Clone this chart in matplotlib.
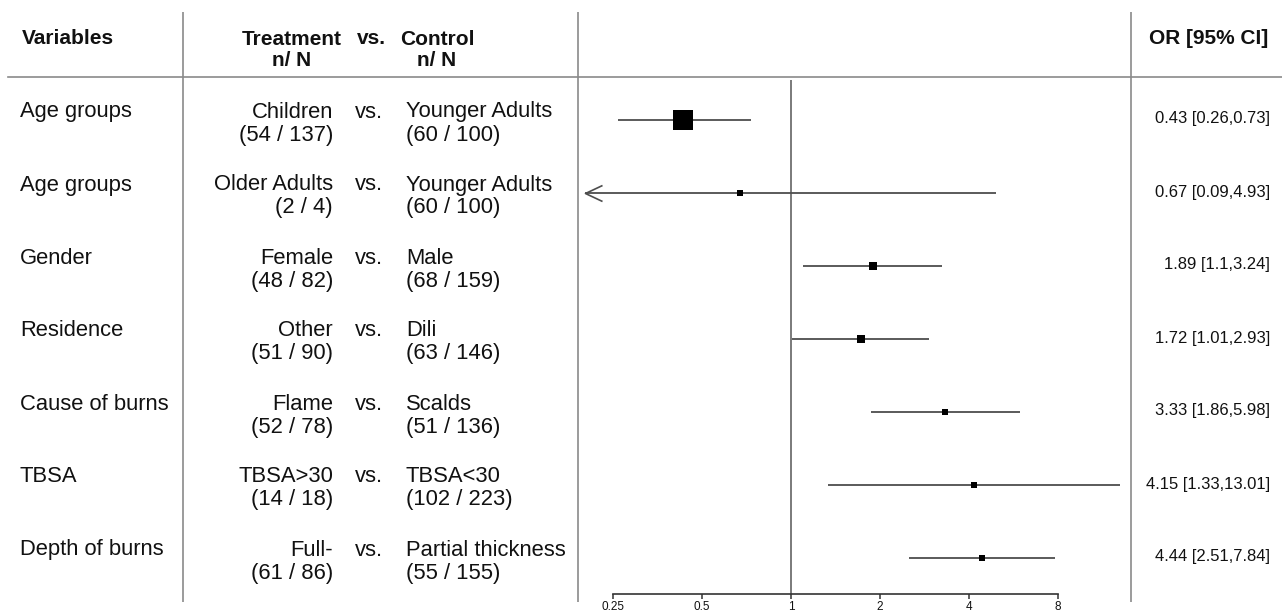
import numpy as np
import matplotlib
matplotlib.use("Agg")
import matplotlib.pyplot as plt
from matplotlib.path import Path

plt.rcParams['font.family'] = ['Liberation Sans', 'DejaVu Sans']

# ---------------- data ----------------
variables = ["Age groups", "Age groups", "Gender", "Residence",
             "Cause of burns", "TBSA", "Depth of burns"]
treatment = ["Children", "Older Adults", "Female", "Other",
             "Flame", "TBSA>30", "Full-"]
control = ["Younger Adults", "Younger Adults", "Male", "Dili",
           "Scalds", "TBSA<30", "Partial thickness"]
treat_n = [54, 2, 48, 51, 52, 14, 61]
treat_N = [137, 4, 82, 90, 78, 18, 86]
ctrl_n = [60, 60, 68, 63, 51, 102, 55]
ctrl_N = [100, 100, 159, 146, 136, 223, 155]
or_est = [0.43, 0.67, 1.89, 1.72, 3.33, 4.15, 4.44]
ci_lo = [0.26, 0.09, 1.1, 1.01, 1.86, 1.33, 2.51]
ci_hi = [0.73, 4.93, 3.24, 2.93, 5.98, 13.01, 7.84]
tick_vals = [0.25, 0.5, 1, 2, 4, 8]
tick_labels = ["0.25", "0.5", "1", "2", "4", "8"]

# ---------------- style ----------------
box_px = [20, 6.5, 8, 8.7, 6.3, 5.3, 6.3]   # box side lengths (pixels)
clip_lo = 0.2
W, H = 1282, 616
TXT = "#111111"
LINE = "#4d4d4d"
SEP = "#8a8a8a"

fig = plt.figure(figsize=(W / 100, H / 100), dpi=100)

# overlay axes in pixel coordinates for table text & separators
ax_t = fig.add_axes([0, 0, 1, 1])
ax_t.set_xlim(0, W)
ax_t.set_ylim(H, 0)
ax_t.axis("off")

# layout (pixels)
row_y0, row_dy = 120, 73
x_left_sep, x_mid_sep, x_right_sep = 183, 578, 1131
f_left, f_right, f_top, f_bot = 579, 1131, 80, 594
px_at_1, px_per_ln = 791, 128.3

# separators
for xs in (x_left_sep, x_mid_sep, x_right_sep):
    ax_t.plot([xs, xs], [12, 602], color=SEP, lw=1.2, solid_capstyle="butt")
ax_t.plot([8, W], [77, 77], color=SEP, lw=1.2)

# header
hfs = 15
ax_t.text(22, 39, "Variables", ha="left", va="center", fontsize=hfs,
          fontweight="bold", color=TXT)
ax_t.text(292, 50, "Treatment\nn/ N", ha="center", va="center", fontsize=hfs,
          fontweight="bold", color=TXT, multialignment="center", linespacing=1.15)
ax_t.text(357, 38, "vs.", ha="left", va="center", fontsize=hfs,
          fontweight="bold", color=TXT)
ax_t.text(437, 50, "Control\nn/ N", ha="center", va="center", fontsize=hfs,
          fontweight="bold", color=TXT, multialignment="center", linespacing=1.15)
ax_t.text(1268, 39, "OR [95% CI]", ha="right", va="center", fontsize=hfs,
          fontweight="bold", color=TXT)

def fmt(v):
    return f"{v:g}"

tfs = 15.8
for i in range(len(variables)):
    ry = row_y0 + row_dy * i
    ax_t.text(20, ry - 8, variables[i], ha="left", va="center", fontsize=tfs, color=TXT)
    ax_t.text(333, ry - 8, treatment[i], ha="right", va="center", fontsize=tfs, color=TXT)
    ax_t.text(333, ry + 15, f"({treat_n[i]} / {treat_N[i]})", ha="right",
              va="center", fontsize=tfs, color=TXT)
    ax_t.text(355, ry - 8, "vs.", ha="left", va="center", fontsize=tfs, color=TXT)
    ax_t.text(406, ry - 8, control[i], ha="left", va="center", fontsize=tfs, color=TXT)
    ax_t.text(406, ry + 15, f"({ctrl_n[i]} / {ctrl_N[i]})", ha="left",
              va="center", fontsize=tfs, color=TXT)
    ax_t.text(1270, ry - 1, f"{fmt(or_est[i])} [{fmt(ci_lo[i])},{fmt(ci_hi[i])}]",
              ha="right", va="center", fontsize=12, color=TXT)

# forest axes
ax_f = fig.add_axes([f_left / W, (H - f_bot) / H, (f_right - f_left) / W, (f_bot - f_top) / H])
ax_f.patch.set_alpha(0)
ax_f.set_xscale("log")
ax_f.set_xlim(np.exp((f_left - px_at_1) / px_per_ln), np.exp((f_right - px_at_1) / px_per_ln))
ax_f.set_ylim((f_bot - row_y0) / row_dy, (f_top - row_y0) / row_dy)

ax_f.axvline(1, color="#7a7a7a", lw=1.4, zorder=1)

arrow_path = Path([(1, 0.47), (0, 0), (1, -0.47)], [Path.MOVETO, Path.LINETO, Path.LINETO])
for i in range(len(or_est)):
    lo = max(ci_lo[i], clip_lo)
    ax_f.plot([lo, ci_hi[i]], [i, i], color=LINE, lw=1.3, zorder=2, solid_capstyle="butt")
    if ci_lo[i] < clip_lo:
        ax_f.plot([clip_lo], [i], marker=arrow_path, markersize=24.5, color=LINE,
                  markerfacecolor="none", markeredgewidth=1.2, zorder=2)
    ax_f.plot([or_est[i]], [i], marker="s", markersize=box_px[i] * 0.72,
              color="black", markeredgewidth=0, zorder=3)

for s in ("top", "right", "left"):
    ax_f.spines[s].set_visible(False)
ax_f.spines["bottom"].set_bounds(tick_vals[0], tick_vals[-1])
ax_f.spines["bottom"].set_color("#333333")
ax_f.spines["bottom"].set_linewidth(1.2)
ax_f.set_yticks([])
ax_f.xaxis.set_minor_locator(matplotlib.ticker.NullLocator())
ax_f.set_xticks(tick_vals)
ax_f.set_xticklabels(tick_labels)
ax_f.tick_params(axis="x", direction="out", length=3.5, width=1.1, color="#333333",
                 labelsize=8.5, pad=1.5, labelcolor=TXT)

fig.savefig("out.png", dpi=100)
